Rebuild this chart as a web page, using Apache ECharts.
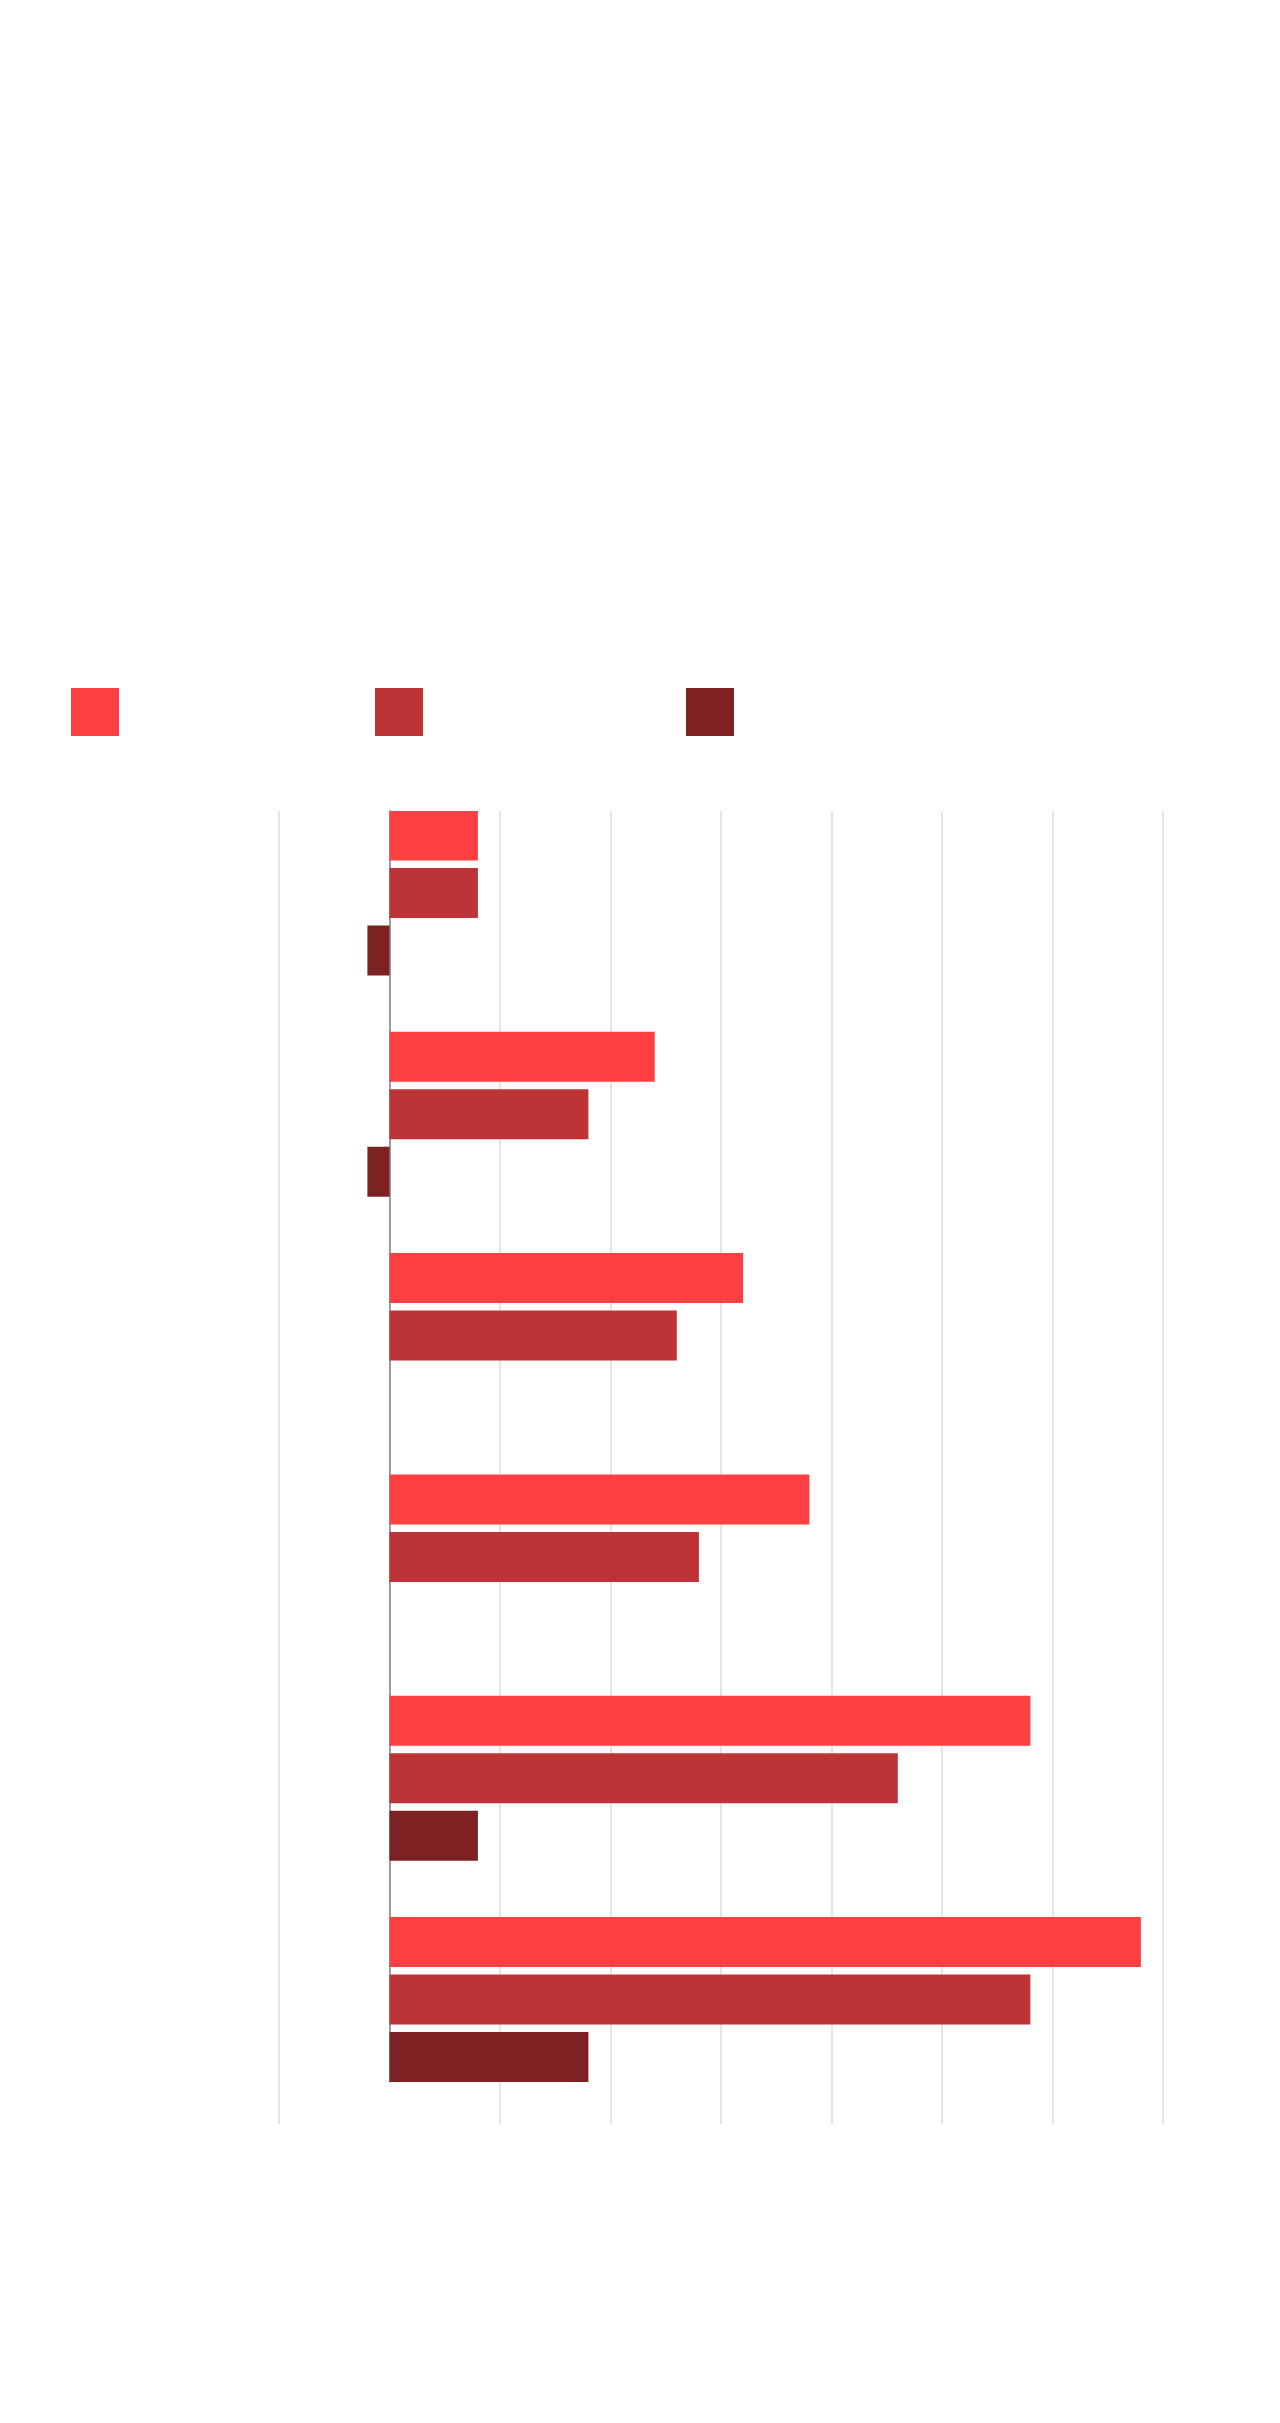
<!DOCTYPE html>
<html>
<head>
<meta charset="utf-8">
<script src="https://cdn.jsdelivr.net/npm/echarts@6/dist/echarts.min.js"></script>
<style>
html, body { margin: 0; padding: 0; background: #fff; }
#chart { width: 1280px; height: 2423px; }
</style>
</head>
<body>
<div id="chart"></div>
<script>
var chart = echarts.init(document.getElementById('chart'));

// data (no labels are visible in it)
var categories = ['A', 'B', 'C', 'D', 'E', 'F'];
var seriesNames = ['Series 1', 'Series 2', 'Series 3'];
var values1 = [4, 12, 16, 19, 29, 34];
var values2 = [4, 9, 13, 14, 23, 29];
var values3 = [-1, -1, 0, 0, 4, 9];
var spacer = [null, null, null, null, null, null]; // empty 4th slot per group
var xMin = -5, xMax = 35, xStep = 5;

var colors = ['#FF4043', '#BE3335', '#7D2122'];
var legendLeft = [71, 375, 686];

// one colour per split line, the line at 0 is left out
var splitColors = ['#dcdcdc', 'rgba(0,0,0,0)', '#dcdcdc', '#dcdcdc', '#dcdcdc', '#dcdcdc', '#dcdcdc', '#dcdcdc', '#dcdcdc'];

function hiddenCat(idx, inverse) {
	return {
		type: 'category',
		gridIndex: idx,
		data: categories,
		inverse: inverse,
		axisLine: { show: false },
		axisTick: { show: false },
		axisLabel: { show: false },
		splitLine: { show: false }
	};
}

function hiddenVal(idx) {
	return {
		type: 'value',
		gridIndex: idx,
		min: xMin,
		max: xMax,
		interval: xStep,
		axisLine: { show: false },
		axisTick: { show: false },
		axisLabel: { show: false },
		splitLine: { show: false }
	};
}

var gridLinesAxis = hiddenVal(0);
gridLinesAxis.splitLine = {
	show: true,
	lineStyle: { color: splitColors, width: 1.5 }
};

var zeroAxis = hiddenCat(2, true);
zeroAxis.axisLine = { show: true, onZero: true, lineStyle: { color: '#7a7a7a', width: 1.5 } };

function barSeries(name, data, color) {
	return {
		name: name,
		type: 'bar',
		xAxisIndex: 1,
		yAxisIndex: 1,
		data: data,
		barWidth: 50,
		barGap: '15%',
		itemStyle: { color: color },
		emphasis: { disabled: true }
	};
}

// one legend per entry so each square sits where it does in the picture
var legends = seriesNames.map(function (name, i) {
	return {
		left: legendLeft[i],
		top: 688,
		padding: 0,
		icon: 'rect',
		itemWidth: 48,
		itemHeight: 48,
		data: [name],
		textStyle: { color: '#fff', fontSize: 28 }
	};
});

var option = {
	backgroundColor: '#fff',
	animation: false,
	legend: legends,
	grid: [
		{ left: 279, right: 117, top: 811, height: 1313 }, // split lines
		{ left: 279, right: 117, top: 811, height: 1328 }, // bars
		{ left: 279, right: 117, top: 811, height: 1271 }  // zero line
	],
	xAxis: [gridLinesAxis, hiddenVal(1), hiddenVal(2)],
	yAxis: [hiddenCat(0, true), hiddenCat(1, true), zeroAxis],
	series: [
		barSeries(seriesNames[0], values1, colors[0]),
		barSeries(seriesNames[1], values2, colors[1]),
		barSeries(seriesNames[2], values3, colors[2]),
		barSeries('spacer', spacer, 'rgba(0,0,0,0)')
	]
};

chart.setOption(option);
</script>
</body>
</html>
